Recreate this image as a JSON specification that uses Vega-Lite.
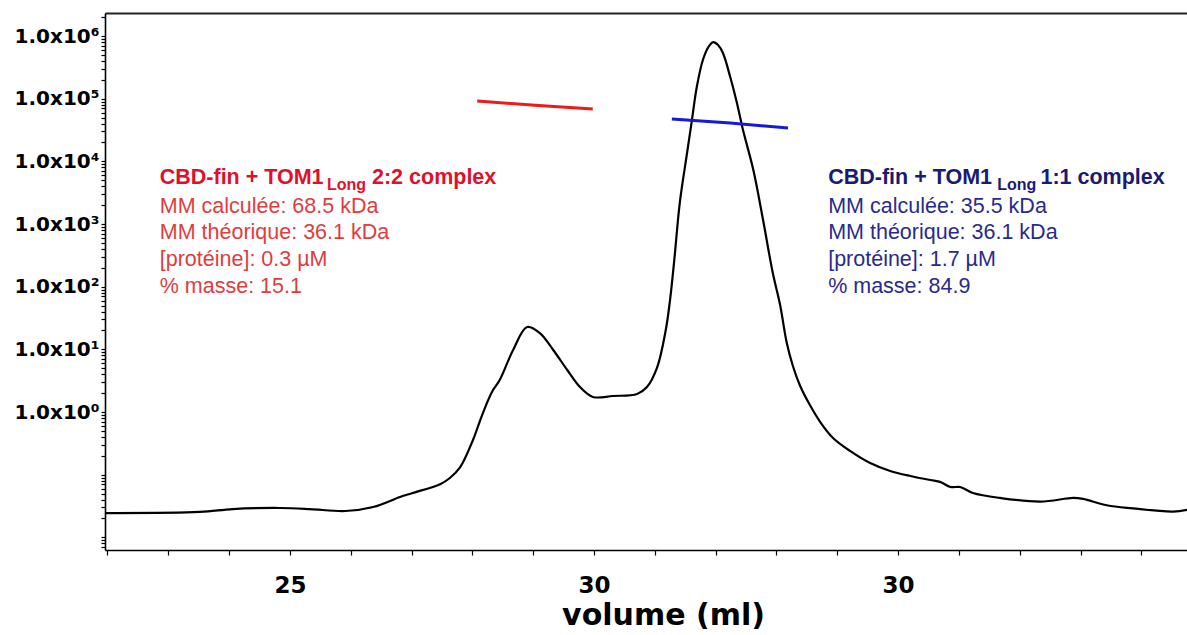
{
  "$schema": "https://vega.github.io/schema/vega-lite/v6.json",
  "width": 1082,
  "height": 537,
  "autosize": {"type": "none"},
  "padding": {"left": 105, "top": 13, "right": 0, "bottom": 85},
  "background": "white",
  "config": {
    "view": {"stroke": null},
    "axis": {"grid": false, "domainColor": "#000", "tickColor": "#000", "labelColor": "#000", "titleColor": "#000"}
  },
  "datasets": {
    "curve": [
      {"volume": 21.96, "signal": 0.0244},
      {"volume": 23.52, "signal": 0.0254},
      {"volume": 24.06, "signal": 0.0283},
      {"volume": 24.84, "signal": 0.0294},
      {"volume": 25.33, "signal": 0.0283},
      {"volume": 25.91, "signal": 0.0263},
      {"volume": 26.37, "signal": 0.0305},
      {"volume": 26.81, "signal": 0.044},
      {"volume": 27.02, "signal": 0.051},
      {"volume": 27.47, "signal": 0.0705},
      {"volume": 27.63, "signal": 0.0885},
      {"volume": 27.8, "signal": 0.132},
      {"volume": 28.01, "signal": 0.357},
      {"volume": 28.13, "signal": 0.745},
      {"volume": 28.26, "signal": 1.55},
      {"volume": 28.34, "signal": 2.24},
      {"volume": 28.45, "signal": 3.24},
      {"volume": 28.67, "signal": 9.76},
      {"volume": 28.9, "signal": 22.7},
      {"volume": 29.11, "signal": 18.2},
      {"volume": 29.33, "signal": 9.76},
      {"volume": 29.56, "signal": 4.68},
      {"volume": 29.77, "signal": 2.5},
      {"volume": 29.98, "signal": 1.74},
      {"volume": 30.31, "signal": 1.8},
      {"volume": 30.71, "signal": 1.94},
      {"volume": 30.87, "signal": 2.5},
      {"volume": 31.04, "signal": 5.22},
      {"volume": 31.18, "signal": 20.3},
      {"volume": 31.25, "signal": 61.2},
      {"volume": 31.32, "signal": 266},
      {"volume": 31.41, "signal": 2160},
      {"volume": 31.53, "signal": 13580},
      {"volume": 31.61, "signal": 45600},
      {"volume": 31.69, "signal": 153500},
      {"volume": 31.79, "signal": 414000},
      {"volume": 31.88, "signal": 667000},
      {"volume": 31.96, "signal": 801000},
      {"volume": 32.04, "signal": 718000},
      {"volume": 32.12, "signal": 535000},
      {"volume": 32.24, "signal": 221500},
      {"volume": 32.35, "signal": 85300},
      {"volume": 32.45, "signal": 31600},
      {"volume": 32.62, "signal": 7270},
      {"volume": 32.78, "signal": 1158},
      {"volume": 32.94, "signal": 165},
      {"volume": 33.06, "signal": 51},
      {"volume": 33.17, "signal": 12.6},
      {"volume": 33.27, "signal": 5.42},
      {"volume": 33.39, "signal": 2.6},
      {"volume": 33.55, "signal": 1.29},
      {"volume": 33.72, "signal": 0.692},
      {"volume": 33.93, "signal": 0.385},
      {"volume": 34.21, "signal": 0.239},
      {"volume": 34.54, "signal": 0.153},
      {"volume": 34.87, "signal": 0.1145},
      {"volume": 35.2, "signal": 0.0952},
      {"volume": 35.53, "signal": 0.0822},
      {"volume": 35.7, "signal": 0.076},
      {"volume": 35.86, "signal": 0.0636},
      {"volume": 36.02, "signal": 0.0636},
      {"volume": 36.23, "signal": 0.051},
      {"volume": 36.68, "signal": 0.0425},
      {"volume": 37.34, "signal": 0.0372},
      {"volume": 37.88, "signal": 0.0425},
      {"volume": 38.04, "signal": 0.041},
      {"volume": 38.43, "signal": 0.0325},
      {"volume": 38.86, "signal": 0.029},
      {"volume": 39.52, "signal": 0.0258},
      {"volume": 39.75, "signal": 0.0275}
    ],
    "segments": [
      {"volume": 28.08, "signal": 91700, "complex": "2:2"},
      {"volume": 29.03, "signal": 78300, "complex": "2:2"},
      {"volume": 29.98, "signal": 68400, "complex": "2:2"},
      {"volume": 31.28, "signal": 47300, "complex": "1:1"},
      {"volume": 32.24, "signal": 40800, "complex": "1:1"},
      {"volume": 33.19, "signal": 34000, "complex": "1:1"}
    ],
    "labels": [
      {"x": 22.86, "y": 5410, "text": "CBD-fin + TOM1", "complex": "2:2", "role": "title"},
      {"x": 25.61, "y": 4190, "text": "Long", "complex": "2:2", "role": "sub"},
      {"x": 26.35, "y": 5410, "text": "2:2 complex", "complex": "2:2", "role": "title"},
      {"x": 22.86, "y": 1900, "text": "MM calculée: 68.5 kDa", "complex": "2:2", "role": "body"},
      {"x": 22.86, "y": 718, "text": "MM théorique: 36.1 kDa", "complex": "2:2", "role": "body"},
      {"x": 22.86, "y": 262, "text": "[protéine]: 0.3 µM", "complex": "2:2", "role": "body"},
      {"x": 22.86, "y": 98.8, "text": "% masse: 15.1", "complex": "2:2", "role": "body"},
      {"x": 33.85, "y": 5410, "text": "CBD-fin + TOM1", "complex": "1:1", "role": "title"},
      {"x": 36.63, "y": 4190, "text": "Long", "complex": "1:1", "role": "sub"},
      {"x": 37.34, "y": 5410, "text": "1:1 complex", "complex": "1:1", "role": "title"},
      {"x": 33.85, "y": 1900, "text": "MM calculée: 35.5 kDa", "complex": "1:1", "role": "body"},
      {"x": 33.85, "y": 718, "text": "MM théorique: 36.1 kDa", "complex": "1:1", "role": "body"},
      {"x": 33.85, "y": 262, "text": "[protéine]: 1.7 µM", "complex": "1:1", "role": "body"},
      {"x": 33.85, "y": 98.8, "text": "% masse: 84.9", "complex": "1:1", "role": "body"}
    ]
  },
  "layer": [
    {
      "data": {"name": "curve"},
      "mark": {"type": "line", "color": "#000", "strokeWidth": 2.2, "interpolate": "catmull-rom"},
      "encoding": {
        "x": {
          "field": "volume", "type": "quantitative",
          "scale": {"domain": [21.96, 39.75], "nice": false, "zero": false},
          "axis": {
            "title": "volume (ml)",
            "values": [22, 23, 24, 25, 26, 27, 28, 29, 30, 31, 32, 33, 34, 35, 36, 37, 38, 39],
            "labelExpr": "datum.value == 25 ? '25' : ((datum.value == 30 || datum.value == 35) ? '30' : '')",
            "tickSize": 5, "domainWidth": 1.6, "tickWidth": 1.2,
            "labelFont": "DejaVu Sans", "labelFontWeight": "bold", "labelFontSize": 23,
            "labelPadding": 19, "labelOverlap": false, "labelFlush": false,
            "titleFont": "DejaVu Sans", "titleFontWeight": "bold", "titleFontSize": 30,
            "titleX": 558, "titlePadding": 3
          }
        },
        "y": {
          "field": "signal", "type": "quantitative",
          "scale": {"type": "log", "domain": [0.00628, 2330000], "nice": false},
          "axis": {
            "title": null,
            "values": [0.007, 0.008, 0.009, 0.01, 0.02, 0.03, 0.04, 0.05, 0.06, 0.07, 0.08, 0.09, 0.1, 0.2, 0.3, 0.4, 0.5, 0.6, 0.7, 0.8, 0.9, 1, 2, 3, 4, 5, 6, 7, 8, 9, 10, 20, 30, 40, 50, 60, 70, 80, 90, 100, 200, 300, 400, 500, 600, 700, 800, 900, 1000, 2000, 3000, 4000, 5000, 6000, 7000, 8000, 9000, 10000, 20000, 30000, 40000, 50000, 60000, 70000, 80000, 90000, 100000, 200000, 300000, 400000, 500000, 600000, 700000, 800000, 900000, 1000000, 2000000],
            "labelExpr": "(abs(datum.value / pow(10, round(log(datum.value) / LN10)) - 1) < 0.000001 && round(log(datum.value) / LN10) >= 0) ? '1.0x10' + ['⁰','¹','²','³','⁴','⁵','⁶'][round(log(datum.value) / LN10)] : ''",
            "tickSize": 4, "domainWidth": 1.6, "tickWidth": 1.2,
            "labelPadding": 2, "labelOverlap": false, "labelBound": false,
            "labelFont": "DejaVu Sans", "labelFontWeight": "bold", "labelFontSize": 20
          }
        }
      }
    },
    {
      "data": {"name": "segments"},
      "mark": {"type": "line", "strokeWidth": 3},
      "encoding": {
        "x": {
          "field": "volume", "type": "quantitative",
          "scale": {"domain": [21.96, 39.75], "nice": false, "zero": false},
          "axis": {"orient": "top", "title": null, "labels": false, "ticks": false, "domain": true, "domainColor": "#222", "domainWidth": 2}
        },
        "y": {
          "field": "signal", "type": "quantitative",
          "scale": {"type": "log", "domain": [0.00628, 2330000], "nice": false},
          "axis": null
        },
        "color": {
          "field": "complex", "type": "nominal",
          "scale": {"domain": ["2:2", "1:1"], "range": ["#ee1a1a", "#1818d8"]},
          "legend": null
        }
      }
    },
    {
      "data": {"name": "labels"},
      "transform": [{"filter": "datum.role == 'title'"}],
      "mark": {"type": "text", "align": "left", "baseline": "middle", "font": "Liberation Sans", "fontWeight": "bold", "fontSize": 21.5},
      "encoding": {
        "x": {"field": "x", "type": "quantitative", "scale": {"domain": [21.96, 39.75], "nice": false, "zero": false}, "axis": null},
        "y": {"field": "y", "type": "quantitative", "scale": {"type": "log", "domain": [0.00628, 2330000], "nice": false}, "axis": null},
        "text": {"field": "text"},
        "color": {
          "field": "complex", "type": "nominal",
          "scale": {"domain": ["2:2", "1:1"], "range": ["#e0102a", "#1a1a72"]},
          "legend": null
        }
      }
    },
    {
      "data": {"name": "labels"},
      "transform": [{"filter": "datum.role == 'sub'"}],
      "mark": {"type": "text", "align": "left", "baseline": "middle", "font": "Liberation Sans", "fontWeight": "bold", "fontSize": 16},
      "encoding": {
        "x": {"field": "x", "type": "quantitative", "scale": {"domain": [21.96, 39.75], "nice": false, "zero": false}, "axis": null},
        "y": {"field": "y", "type": "quantitative", "scale": {"type": "log", "domain": [0.00628, 2330000], "nice": false}, "axis": null},
        "text": {"field": "text"},
        "color": {
          "field": "complex", "type": "nominal",
          "scale": {"domain": ["2:2", "1:1"], "range": ["#e0102a", "#1a1a72"]},
          "legend": null
        }
      }
    },
    {
      "data": {"name": "labels"},
      "transform": [{"filter": "datum.role == 'body'"}],
      "mark": {"type": "text", "align": "left", "baseline": "middle", "font": "Liberation Sans", "fontSize": 21.5},
      "encoding": {
        "x": {"field": "x", "type": "quantitative", "scale": {"domain": [21.96, 39.75], "nice": false, "zero": false}, "axis": null},
        "y": {"field": "y", "type": "quantitative", "scale": {"type": "log", "domain": [0.00628, 2330000], "nice": false}, "axis": null},
        "text": {"field": "text"},
        "color": {
          "field": "complex", "type": "nominal",
          "scale": {"domain": ["2:2", "1:1"], "range": ["#e23c3c", "#2a2a8e"]},
          "legend": null
        }
      }
    }
  ],
  "resolve": {"scale": {"color": "independent"}, "axis": {"x": "independent", "y": "independent"}}
}
